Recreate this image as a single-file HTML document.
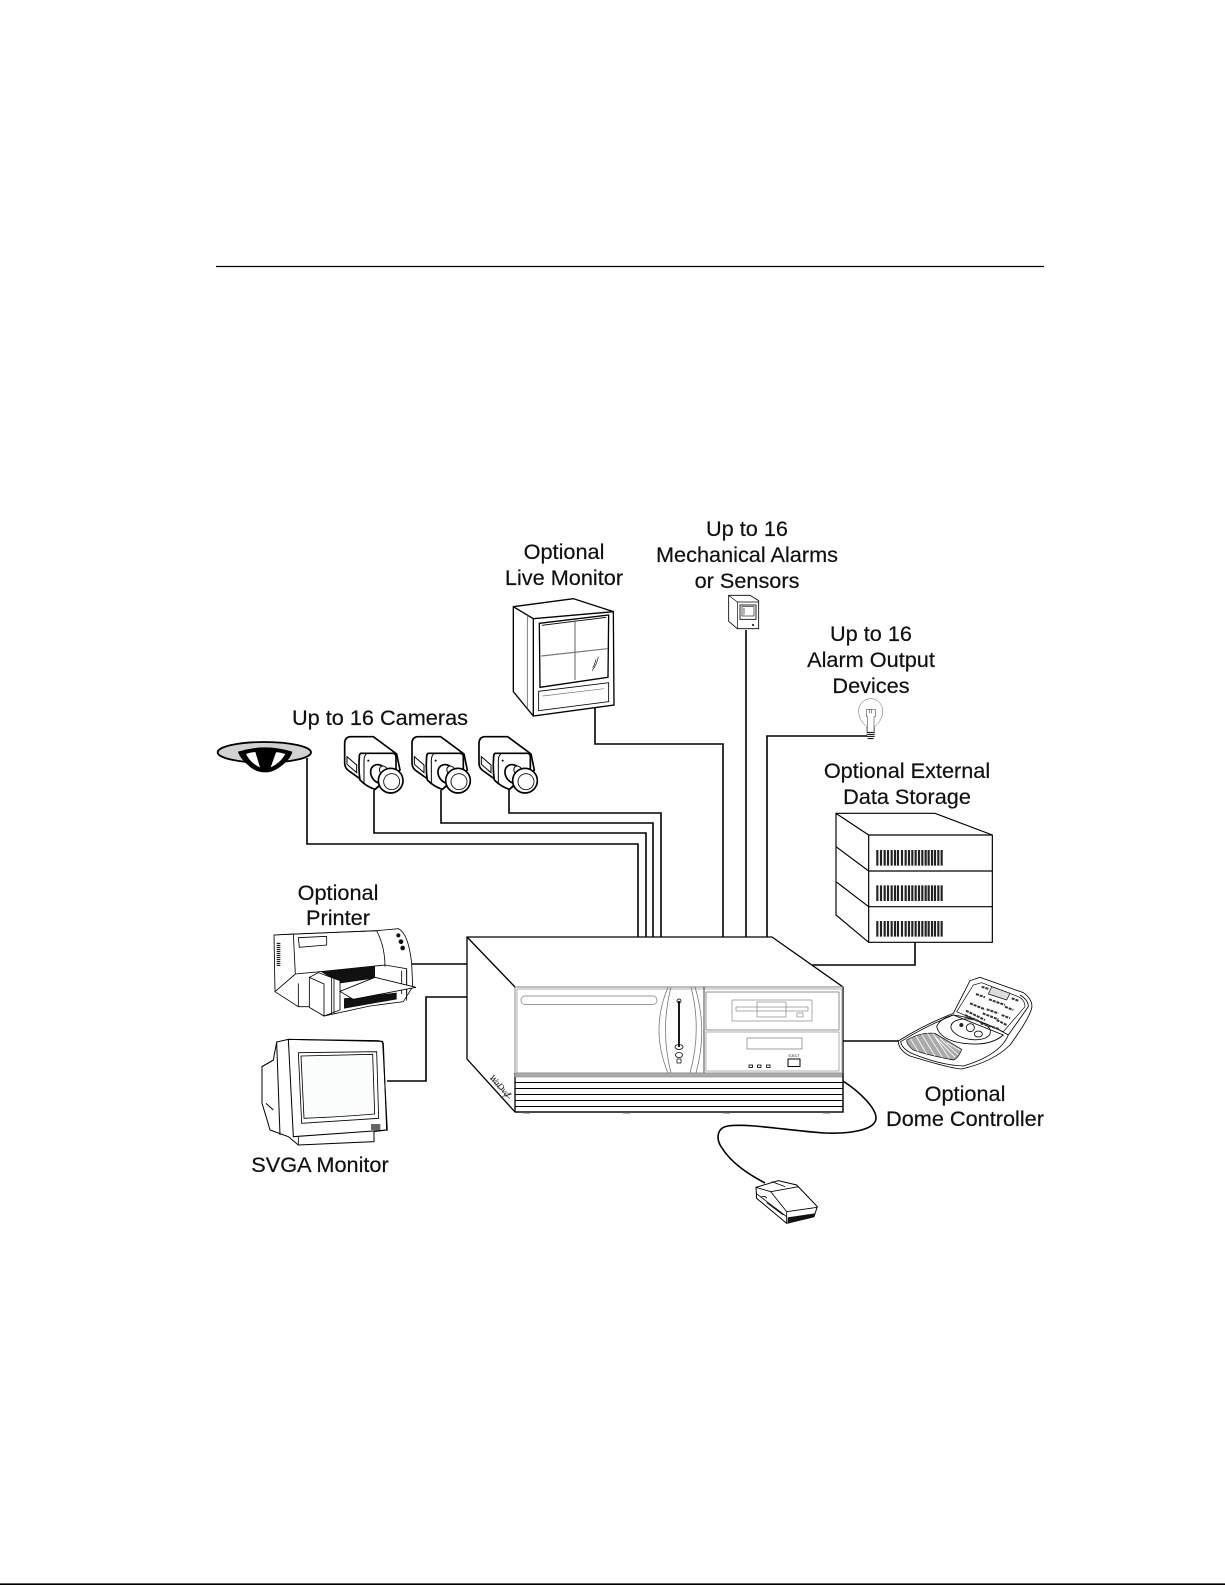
<!DOCTYPE html>
<html><head><meta charset="utf-8"><style>
html,body{margin:0;padding:0;background:#fff}
svg{display:block}
text{font-family:"Liberation Sans",Arial,sans-serif;font-size:21.7px;fill:#111;text-anchor:middle}
</style></head><body>
<svg width="1225" height="1585" viewBox="0 0 1225 1585" xmlns="http://www.w3.org/2000/svg" fill="none" stroke="#000" stroke-width="1.3">
<rect width="1225" height="1585" fill="#fff" stroke="none"/>
<path d="M216 266.5H1044" stroke-width="1.2"/>
<path d="M0 1584.2H1225" stroke-width="1.6"/>

<!-- labels -->
<g stroke="#111" stroke-width=".2">
<text x="564" y="559">Optional</text><text x="564" y="585">Live Monitor</text>
<text x="747" y="536">Up to 16</text><text x="747" y="562">Mechanical Alarms</text><text x="747" y="588">or Sensors</text>
<text x="871" y="641">Up to 16</text><text x="871" y="667">Alarm Output</text><text x="871" y="693">Devices</text>
<text x="380" y="725">Up to 16 Cameras</text>
<text x="907" y="778">Optional External</text><text x="907" y="804">Data Storage</text>
<text x="338" y="900">Optional</text><text x="338" y="925">Printer</text>
<text x="320" y="1172">SVGA Monitor</text>
<text x="965" y="1101">Optional</text><text x="965" y="1126">Dome Controller</text>
</g>

<!-- wires -->
<g stroke-width="1.6">
<path d="M307 758V844H638V937"/>
<path d="M374 790V833H646V937"/>
<path d="M441 790V823H653V937"/>
<path d="M509 790V813H661V937"/>
<path d="M595 708V744H723V937"/>
<path d="M746 630V937"/>
<path d="M867 736H767V937"/>
<path d="M915 942V965H812"/>
<path d="M412 964H467"/>
<path d="M387 1081H426V997H467"/>
<path d="M843 1041H900"/>
<path d="M843 1081C860 1092 876 1108 876 1118C876 1130 850 1134 825 1133C790 1131 750 1123 728 1126C716 1128 716 1140 722 1148C732 1164 750 1175 765 1183"/>
</g>

<!-- main box -->
<g>
<path d="M467 937H772L843 987V1112H515L467 1059Z" fill="#fff"/>
<path d="M467 937L515 987" />
<path d="M515 987H843" stroke="#999" stroke-width="1.2"/>
<path d="M515 987V1073" stroke="#888" stroke-width="1"/>
<path d="M515 1073V1112"/>
<rect x="517" y="989" width="325" height="84" stroke="#bbb" stroke-width="1.2"/>
<rect x="521" y="996" width="136" height="8.5" rx="4.2" stroke="#999" stroke-width=".9"/>
<path d="M668 987Q650 1030 668 1073M671 987Q660 1030 671 1073M691 987Q702 1030 690 1073M695 987Q708 1030 696 1073" stroke="#777" stroke-width=".8"/>
<path d="M679 1001V1047" stroke-width="1.8"/>
<circle cx="679" cy="1001" r="2" stroke-width=".8"/>
<ellipse cx="679" cy="1047" rx="4" ry="2.5" stroke-width=".8"/><ellipse cx="679" cy="1055" rx="3.5" ry="2.5" stroke-width=".8"/><rect x="677" y="1059" width="4" height="4" stroke-width=".7"/>
<path d="M704 987V1073" stroke="#333" stroke-width=".9"/>
<rect x="706" y="992" width="133" height="38" stroke="#777" stroke-width=".8"/>
<rect x="706" y="1032" width="133" height="39" stroke="#999" stroke-width=".8"/>
<rect x="732" y="1000" width="80" height="21" stroke="#888" stroke-width=".7"/>
<rect x="736" y="1007" width="72" height="4" stroke="#888" stroke-width=".7"/>
<rect x="757" y="1002" width="29" height="15" stroke="#888" stroke-width=".7"/>
<rect x="797" y="1013" width="6" height="4" stroke="#888" stroke-width=".7"/>
<rect x="747" y="1038" width="55" height="11" stroke="#777" stroke-width=".7"/>
<rect x="749" y="1065" width="3.5" height="2.5" stroke-width=".8"/><rect x="757.5" y="1065" width="3.5" height="2.5" stroke-width=".8"/><rect x="766.5" y="1065" width="3.5" height="2.5" stroke-width=".8"/>
<rect x="788" y="1059" width="12" height="7.5" stroke-width="1"/>
<text x="794" y="1057" style="font-size:3.5px" stroke="none">EJECT</text>
<rect x="515" y="1073" width="328" height="4" fill="#aaa" stroke="#888" stroke-width=".6"/>
<path d="M515 1082.5H843M515 1088.5H843M515 1094.5H843M515 1100.5H843M515 1106.5H843" stroke-width="1"/>
<path d="M515 1112H843V1073" stroke-width="1.2"/>
<path d="M523 1113h7M623 1113h7M723 1113h7M823 1113h7" stroke="#888" stroke-width="1.2"/>
<path d="M490 1078L510 1099M500 1097L512 1094" stroke="#555" stroke-width=".7"/>
<text x="0" y="0" transform="translate(489 1078) rotate(48)" style="font-size:9px;font-family:'Liberation Serif',serif;font-style:italic;text-anchor:start" stroke="none">WaDvd</text>
</g>

<!-- live monitor (zoom coords 200,500 /3) -->
<g transform="translate(200 500) scale(.33333)" stroke-width="4">
<path d="M940 320L1120 296L1240 335L1242 615L1000 648L940 575Z" fill="#fff"/>
<path d="M940 320L1000 356L1240 335M1000 356V648"/>
<path d="M982 346V625" stroke="#666" stroke-width="2.5"/>
<path d="M1018 370L1226 345L1224 532L1020 562Z" stroke-width="4"/>
<path d="M1026 376L1219 352" stroke-width="2.5"/>
<path d="M1125 360V540M1024 468L1222 446" stroke="#777" stroke-width="3.5"/>
<path d="M1016 574L1226 548V605L1016 632Z" stroke-width="2.5"/>
<path d="M1028 588L1212 566" stroke="#777" stroke-width="2"/>
<path d="M1195 470Q1190 495 1176 512M1188 478Q1184 495 1178 503" stroke-width="1.8"/>
</g>

<!-- dome & cameras (zoom coords 210,730 /3) -->
<g transform="translate(210 730) scale(.33333)">
<ellipse cx="163" cy="67" rx="140" ry="31" fill="#d2d2d2" stroke-width="5.5"/>
<path d="M85 66Q165 40 246 66Q240 85 222 100Q190 128 165 126Q135 126 112 102Q92 85 85 66Z" fill="#000" stroke-width="2"/>
<path d="M108 72Q122 67 136 66L150 112Q122 100 108 72ZM226 72Q205 66 198 67L182 112Q210 100 226 72Z" fill="#fff" stroke="none"/>
<g id="cam" stroke-width="5">
<path d="M404 40Q404 22 420 20H490L560 72L570 120L495 178L420 125Q404 115 404 100Z" fill="#fff"/>
<path d="M452 70H548Q558 70 558 82V120L495 178Q470 170 450 150Q445 120 448 80Q448 72 452 70Z" fill="#fff"/>
<path d="M472 70Q462 76 462 90V160" stroke-width="3"/>
<path d="M411 80L440 105V128L411 103Z" stroke-width="3"/>
<circle cx="475" cy="92" r="3" fill="#000" stroke="none"/>
<ellipse cx="508" cy="132" rx="24" ry="30" transform="rotate(-35 508 132)" fill="#fff"/>
<ellipse cx="522" cy="123" rx="12" ry="16" transform="rotate(-35 522 123)" fill="#fff" stroke-width="3"/>
<circle cx="542" cy="152" r="37" fill="#fff"/>
<circle cx="545" cy="155" r="24" stroke-width="2.5"/>
</g>
<use href="#cam" x="202"/><use href="#cam" x="403"/>
</g>

<!-- sensor (zoom coords 650,500 /3) -->
<g transform="translate(650 500) scale(.33333)" stroke-width="2.5">
<path d="M236 286H300L326 302V386H262L236 364Z" fill="#fff"/>
<path d="M236 286L262 306V386M262 306H326" stroke-width="2"/>
<rect x="270" y="315" width="48" height="43" stroke-width="2.5"/>
<rect x="276" y="320" width="36" height="28" stroke-width="1.8"/>
<path d="M282 324V344" stroke-width="1.8"/>
<circle cx="309" cy="375" r="3" fill="#000" stroke="none"/>
<!-- bulb -->
<path d="M650 695V680Q625 660 626 632A36 36 0 0 1 698 632Q699 660 674 680V695" fill="#fff" stroke-width="1.3" stroke="#444"/>
<path d="M652 695V650H649V628H676V650H672V695" stroke-width="1.6" stroke="#333"/>
<path d="M658 628V640M664 628V640" stroke-width="1.3"/>
<path d="M650 697H674M650 703H674M650 709H674M653 716H671" stroke-width="3"/>
<!-- storage -->
<path d="M558 940H855L1027 1005V1327H656L558 1245Z" fill="#fff" stroke-width="3.5"/>
<path d="M558 940L656 1005H1027M656 1005V1327M558 1040L656 1113H1027M558 1145L656 1220H1027" stroke-width="3.5"/>
<g id="bar" stroke="#222" stroke-width="6.5">
<path d="M682 1050v47M693 1050v47M704 1050v47M714 1050v47M725 1050v47M735 1050v47M744 1050v47M756 1050v47M767 1050v47M777 1050v47M787 1050v47M797 1050v47M807 1050v47M817 1050v47M827 1050v47M836 1050v47M846 1050v47M855 1050v47M865 1050v47M875 1050v47"/>
</g>
<use href="#bar" y="106"/><use href="#bar" y="213"/>
</g>

<!-- printer, svga (zoom coords 230,870 /3) -->
<g transform="translate(230 870) scale(.33333)" stroke-width="2.5">
<path d="M132 195L440 182L505 176Q535 190 545 280L548 350L520 395L420 408L282 438L240 410L205 410L135 365Z" fill="#fff"/>
<path d="M132 195L190 192L196 312M190 192L440 182Q465 230 465 290M196 312L135 365"/>
<path d="M205 203L290 199V225L208 232Z" stroke-width="2.5"/>
<path d="M140 220h11M140 226h11M140 232h11M140 238h11M140 244h11M140 250h11M140 256h11M140 262h11M140 268h11M140 274h11M140 280h11M140 286h11" stroke-width="3"/>
<circle cx="505" cy="196" r="6" fill="#111" stroke="none"/><circle cx="513" cy="215" r="7" fill="#111" stroke="none"/><circle cx="518" cy="234" r="7" fill="#111" stroke="none"/>
<path d="M196 312L270 305L465 285L530 296V392M205 410V340"/>
<path d="M272 305L435 288V325L330 340Z" fill="#111" stroke="none"/>
<path d="M342 385V416L500 388V368Z" fill="#111" stroke="none"/>
<path d="M515 302V372M530 300V372"/>
<path d="M238 322L265 308L330 332V420L282 438L238 412Z" fill="#fff"/>
<path d="M238 322L282 342V438M305 322V432M312 325V430"/>
<path d="M435 322L558 352L370 388L330 364Z" fill="#fff" stroke-width="2.5"/>
<!-- svga monitor -->
<path d="M175 508L140 516L130 570L96 590V700L110 745L120 780L175 800L205 825L432 815V785L470 780L460 520Q455 512 440 512Z" fill="#fff" stroke-width="3"/>
<path d="M175 508L190 800L470 780M175 508L458 514L472 782M140 516L150 795M96 590L130 570M108 700L130 720" stroke-width="3"/>
<path d="M205 548L440 545L446 745L215 760Z" stroke-width="2.5"/>
<path d="M213 558L428 553L434 732Q340 740 222 745Z" stroke-width="2.5" fill="#fbfdfd"/>
<rect x="423" y="762" width="28" height="18" fill="#666" stroke="none"/>
<path d="M205 800V825M432 785V815" stroke-width="2.5"/>
</g>

<!-- controller (zoom coords 890,970 /3) -->
<g transform="translate(890 970) scale(.33333)" stroke-width="2.5">
<path d="M25 213Q100 165 190 130L240 32L270 22L400 68Q430 90 425 115Q415 150 360 225Q310 275 215 297Q180 295 60 258Q25 240 25 213Z" fill="#fff"/>
<path d="M32 215Q100 172 190 135Q270 145 355 195Q330 255 220 288Q150 285 65 250Q35 235 32 215Z"/>
<path d="M355 195L415 110Q415 90 390 75"/>
<path d="M200 125L340 185L405 110Q405 90 385 80L275 38L250 45Z" stroke-width="2"/>
<path d="M140 170Q150 145 190 135L340 195Q300 230 220 220Q150 210 140 170Z"/>
<ellipse cx="242" cy="178" rx="60" ry="30" transform="rotate(10 242 178)"/>
<circle cx="241" cy="173" r="12" stroke-width="2.5"/><ellipse cx="265" cy="192" rx="12" ry="9" stroke-width="2.5"/><circle cx="214" cy="165" r="6" fill="#222" stroke="none"/>
<path d="M305 50L360 70L350 90L295 72Z" fill="#ddd" stroke-width="2"/>
<g stroke="#333" stroke-width="6" stroke-dasharray="9 3">
<path d="M275 50L295 57M365 85L385 92M258 72L285 82M297 88L345 105M345 110L370 120M240 100L285 118M290 118L325 130M278 130L325 148M335 135L360 145M228 122L285 150M225 135L280 160M272 160L330 178M320 150L350 165"/>
</g>
<path d="M50 210Q95 185 135 190L215 238Q205 265 190 270Q110 255 70 240Q50 225 50 210Z" fill="#aaa" stroke-width="2"/>
<path d="M62 207L85 245M78 198L110 252M95 193L135 258M112 190L158 263M128 190L178 265M135 200L195 262M150 205L205 255M170 218L212 242" stroke="#fff" stroke-width="2.5"/>
</g>

<!-- footswitch (zoom coords 720,960 /3) -->
<g transform="translate(720 960) scale(.33333)" stroke-width="3">
<path d="M108 682L175 662L230 675L292 740L282 770L200 790L110 715Z" fill="#fff"/>
<path d="M108 682L152 695L235 680M152 695L200 755V790M200 755L292 742M108 700L200 770M155 665L195 680" stroke-width="2.5"/>
<path d="M203 772L284 760L280 772L203 790Z" fill="#111" stroke="none"/>
<path d="M122 712Q135 705 140 715M140 728L190 765" stroke-width="2.5"/>
</g>
</svg>
</body></html>
